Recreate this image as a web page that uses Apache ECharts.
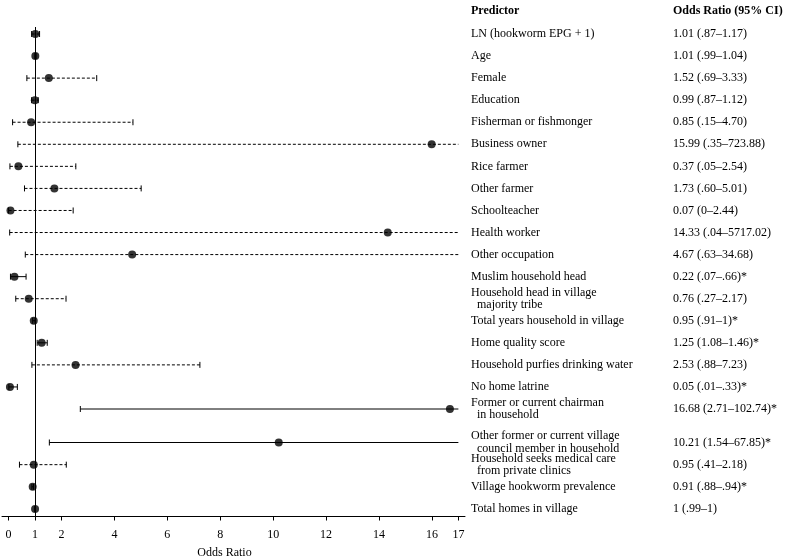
<!DOCTYPE html>
<html>
<head>
<meta charset="utf-8">
<script src="https://cdn.jsdelivr.net/npm/echarts@6/dist/echarts.min.js"></script>
<style>html,body{margin:0;padding:0;background:#fff}#c{width:787px;height:557px}</style>
</head>
<body>
<div id="c"></div>
<script>
// ---- data ----
const predictors = [
  'LN (hookworm EPG + 1)',
  'Age',
  'Female',
  'Education',
  'Fisherman or fishmonger',
  'Business owner',
  'Rice farmer',
  'Other farmer',
  'Schoolteacher',
  'Health worker',
  'Other occupation',
  'Muslim household head',
  'Household head in village\n  majority tribe',
  'Total years household in village',
  'Home quality score',
  'Household purfies drinking water',
  'No home latrine',
  'Former or current chairman\n  in household',
  'Other former or current village\n  council member in household',
  'Household seeks medical care\n  from private clinics',
  'Village hookworm prevalence',
  'Total homes in village'
];
const oddsRatio = ['1.01','1.01','1.52','0.99','0.85','15.99','0.37','1.73','0.07','14.33','4.67','0.22','0.76','0.95','1.25','2.53','0.05','16.68','10.21','0.95','0.91','1'];
const ciLower   = ['.87','.99','.69','.87','.15','.35','.05','.60','0','.04','.63','.07','.27','.91','1.08','.88','.01','2.71','1.54','.41','.88','.99'];
const ciUpper   = ['1.17','1.04','3.33','1.12','4.70','723.88','2.54','5.01','2.44','5717.02','34.68','.66','2.17','1','1.46','7.23','.33','102.74','67.85','2.18','.94','1'];
const significant = [0,0,0,0,0,0,0,0,0,0,0,1,0,1,1,0,1,1,1,0,1,0];
const xTicks = [0,1,2,4,6,8,10,12,14,16,17];
const nullValue = 1;
const panelRows = [
  [0,1,2,3,4,5,6,7,8,9,10,11,12,13,14,15,16,17],
  [18,19,20,21]
];

// ---- chart ----
const FONT = "'Liberation Serif','Times New Roman',serif";
const xMin = -0.25, xMax = 17.25;
const clipMax = xTicks[xTicks.length - 1];
const orNum = oddsRatio.map(Number);
const loNum = ciLower.map(Number);
const hiNum = ciUpper.map(Number);
const ciLabel = i => `${oddsRatio[i]} (${ciLower[i]}\u2013${ciUpper[i]})${significant[i] ? '*' : ''}`;

const panelLayout = [
  {top: 34, height: 375},
  {top: 442.5, height: 66.5}
];

const textBase = {color: '#000', fontFamily: FONT, fontSize: 12};

const grid = [{left: 2, right: 322, top: 27, bottom: 40.5, outerBoundsMode: 'none', containLabel: false}];
const xAxis = [{
  gridIndex: 0, type: 'value', min: xMin, max: xMax,
  axisLine: {lineStyle: {color: '#000', width: 1}},
  axisTick: {customValues: xTicks, length: 4, lineStyle: {color: '#000'}},
  axisLabel: Object.assign({customValues: xTicks, margin: 12}, textBase),
  splitLine: {show: false},
  name: 'Odds Ratio', nameLocation: 'middle', nameGap: 30,
  nameTextStyle: Object.assign({padding: [0, 18, 0, 0]}, textBase)
}];
const yAxis = [{gridIndex: 0, type: 'value', min: 0, max: 1, show: false}];
const series = [{
  type: 'scatter', xAxisIndex: 0, yAxisIndex: 0, data: [],
  markLine: {
    silent: true, symbol: 'none', label: {show: false},
    lineStyle: {color: '#000', type: 'solid', width: 1},
    data: [{xAxis: nullValue}]
  }
}];

function renderCI(params, api) {
  const lo = api.value(0), hi = api.value(1), y = api.value(2), sig = api.value(3);
  const hiC = Math.min(hi, clipMax);
  const p0 = api.coord([lo, y]);
  const p1 = api.coord([hiC, y]);
  const style = {stroke: '#000', lineWidth: 1, lineDash: sig ? null : [3, 2], fill: null};
  const h = 3;
  const children = [
    {type: 'line', shape: {x1: p0[0], y1: p0[1], x2: p1[0], y2: p1[1]}, style: style},
    {type: 'line', shape: {x1: p0[0], y1: p0[1] - h, x2: p0[0], y2: p0[1] + h}, style: {stroke: '#000', lineWidth: 1}}
  ];
  if (hi <= clipMax) {
    children.push({type: 'line', shape: {x1: p1[0], y1: p1[1] - h, x2: p1[0], y2: p1[1] + h}, style: {stroke: '#000', lineWidth: 1}});
  }
  return {type: 'group', children: children};
}

const catLabel = {interval: 0, align: 'left', margin: 6, lineHeight: 12.5, hideOverlap: false};

panelRows.forEach((rows, p) => {
  const gi = p + 1;
  grid.push({left: 2, right: 322, top: panelLayout[p].top, height: panelLayout[p].height,
             outerBoundsMode: 'none', containLabel: false});
  xAxis.push({gridIndex: gi, type: 'value', min: xMin, max: xMax, show: false});
  const yLab = yAxis.length;
  yAxis.push({
    gridIndex: gi, type: 'category', inverse: true, boundaryGap: false, position: 'right',
    data: rows.map(r => predictors[r]),
    axisLine: {show: false}, axisTick: {show: false}, splitLine: {show: false},
    axisLabel: Object.assign({}, catLabel, textBase)
  });
  yAxis.push({
    gridIndex: gi, type: 'category', inverse: true, boundaryGap: false, position: 'right', offset: 202,
    data: rows.map(r => ciLabel(r)),
    axisLine: {show: false}, axisTick: {show: false}, splitLine: {show: false},
    axisLabel: Object.assign({}, catLabel, textBase)
  });
  series.push({
    type: 'custom', xAxisIndex: gi, yAxisIndex: yLab, renderItem: renderCI, silent: true, z: 2,
    encode: {x: [0, 1], y: 2},
    data: rows.map((r, k) => [loNum[r], hiNum[r], k, significant[r]])
  });
  series.push({
    type: 'scatter', xAxisIndex: gi, yAxisIndex: yLab, symbol: 'circle', symbolSize: 8, z: 3,
    itemStyle: {color: '#000'}, silent: true,
    data: rows.map((r, k) => [orNum[r], k])
  });
});

const headerStyle = Object.assign({}, textBase, {fontWeight: 'bold'});
const title = [
  {text: 'Predictor', left: 471, top: 5, padding: 0, textStyle: headerStyle},
  {text: 'Odds Ratio (95% CI)', left: 673, top: 5, padding: 0, textStyle: headerStyle}
];

const chart = echarts.init(document.getElementById('c'), null, {renderer: 'canvas'});
chart.setOption({animation: false, backgroundColor: '#fff', title, grid, xAxis, yAxis, series});
</script>
</body>
</html>
